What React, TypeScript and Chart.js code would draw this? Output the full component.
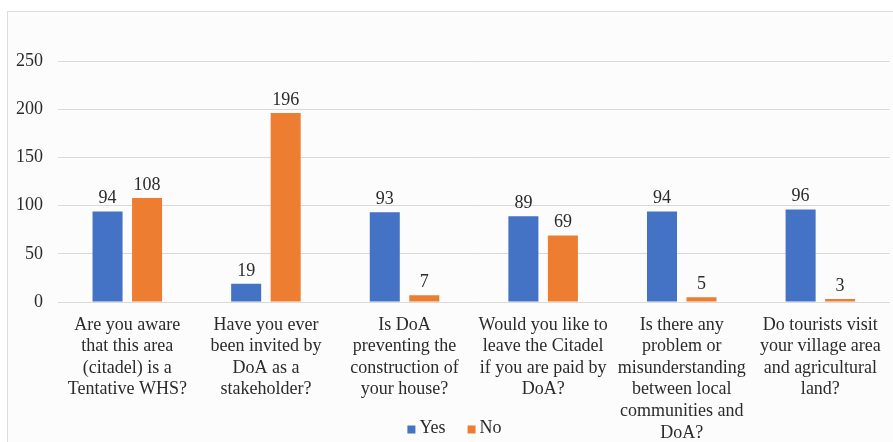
import React, { useEffect, useRef } from "react";
import { Chart, registerables } from "chart.js";

Chart.register(...registerables);

// Survey questions (wrapped into lines as they appear under each pair of bars)
const categories: string[][] = [
  ["Are you aware", "that this area", "(citadel) is a", "Tentative WHS?"],
  ["Have you ever", "been invited by", "DoA as a", "stakeholder?"],
  ["Is DoA", "preventing the", "construction of", "your house?"],
  ["Would you like to", "leave the Citadel", "if you are paid by", "DoA?"],
  ["Is there any", "problem or", "misunderstanding", "between local", "communities and", "DoA?"],
  ["Do tourists visit", "your village area", "and agricultural", "land?"],
];

const yesValues: number[] = [94, 19, 93, 89, 94, 96];
const noValues: number[] = [108, 196, 7, 69, 5, 3];

const seriesNames: string[] = ["Yes", "No"];
const seriesColors: string[] = ["#4472C4", "#ED7D31"];

const yMin = 0;
const yMax = 250;
const yStep = 50;

const FONT = '"Liberation Serif", "Times New Roman", serif';
const TEXT = "#2b2b2b";

// Light frame and faint panel fill behind the chart
const framePlugin = {
  id: "frame",
  beforeDraw(chart: any) {
    const ctx = chart.ctx;
    ctx.save();
    ctx.fillStyle = "#ffffff";
    ctx.fillRect(0, 0, chart.width, chart.height);
    ctx.fillStyle = "#fcfcfc";
    ctx.fillRect(8, 12, chart.width, chart.height);
    ctx.strokeStyle = "#dcdcdc";
    ctx.lineWidth = 1;
    ctx.strokeRect(7.5, 11.5, chart.width + 10, chart.height + 10);
    ctx.restore();
  },
};

// Value written above every bar
const valueLabelPlugin = {
  id: "valueLabels",
  afterDatasetsDraw(chart: any) {
    const ctx = chart.ctx;
    ctx.save();
    ctx.font = `18px ${FONT}`;
    ctx.fillStyle = TEXT;
    ctx.textAlign = "center";
    ctx.textBaseline = "alphabetic";
    chart.data.datasets.forEach((ds: any, i: number) => {
      const meta = chart.getDatasetMeta(i);
      meta.data.forEach((bar: any, j: number) => {
        ctx.fillText(String(ds.data[j]), bar.x, bar.y - 8);
      });
    });
    ctx.restore();
  },
};

// Compact legend at the bottom: small square swatch followed by the series name
const legendPlugin = {
  id: "bottomLegend",
  afterDraw(chart: any) {
    const ctx = chart.ctx;
    const box = 8;
    const textGap = 4;
    const itemGap = 22;
    const cx = 454.5;
    const cy = 429.5;
    ctx.save();
    ctx.font = `18px ${FONT}`;
    ctx.textBaseline = "middle";
    ctx.textAlign = "left";
    const items = chart.data.datasets.map((ds: any) => ({
      label: ds.label as string,
      color: ds.backgroundColor as string,
      w: box + textGap + ctx.measureText(ds.label).width,
    }));
    const total =
      items.reduce((s: number, it: any) => s + it.w, 0) + itemGap * (items.length - 1);
    let x = cx - total / 2;
    items.forEach((it: any) => {
      ctx.fillStyle = it.color;
      ctx.fillRect(x, cy - box / 2, box, box);
      ctx.fillStyle = TEXT;
      ctx.fillText(it.label, x + box + textGap, cy - 1);
      x += it.w + itemGap;
    });
    ctx.restore();
  },
};

export default function App() {
  const canvasRef = useRef<HTMLCanvasElement | null>(null);

  useEffect(() => {
    const canvas = canvasRef.current;
    if (!canvas) return;
    const chart = new Chart(canvas, {
      type: "bar",
      data: {
        labels: categories,
        datasets: [
          {
            label: seriesNames[0],
            data: yesValues,
            backgroundColor: seriesColors[0],
            categoryPercentage: 0.57,
            barPercentage: 0.76,
          },
          {
            label: seriesNames[1],
            data: noValues,
            backgroundColor: seriesColors[1],
            categoryPercentage: 0.57,
            barPercentage: 0.76,
          },
        ],
      },
      options: {
        responsive: false,
        animation: false,
        layout: { padding: { top: 61, left: 0, right: 2, bottom: 0 } },
        plugins: {
          legend: { display: false },
          tooltip: { enabled: false },
        },
        scales: {
          x: {
            grid: { display: false, drawTicks: false },
            border: { display: false },
            ticks: {
              color: TEXT,
              font: { family: FONT, size: 18, lineHeight: 1.2 },
              padding: 12,
              maxRotation: 0,
              autoSkip: false,
            },
            afterFit(scale: any) {
              scale.height = 140;
            },
          },
          y: {
            min: yMin,
            max: yMax,
            grid: { color: "#d9d9d9", lineWidth: 1, drawTicks: false },
            border: { display: false },
            ticks: {
              stepSize: yStep,
              color: TEXT,
              font: { family: FONT, size: 18 },
              padding: 15,
            },
            afterFit(scale: any) {
              scale.width = 58;
            },
          },
        },
      },
      plugins: [framePlugin, valueLabelPlugin, legendPlugin],
    });
    return () => chart.destroy();
  }, []);

  return (
    <div style={{ position: "absolute", left: 0, top: 0, width: 893, height: 442 }}>
      <canvas ref={canvasRef} width={893} height={442} />
    </div>
  );
}
